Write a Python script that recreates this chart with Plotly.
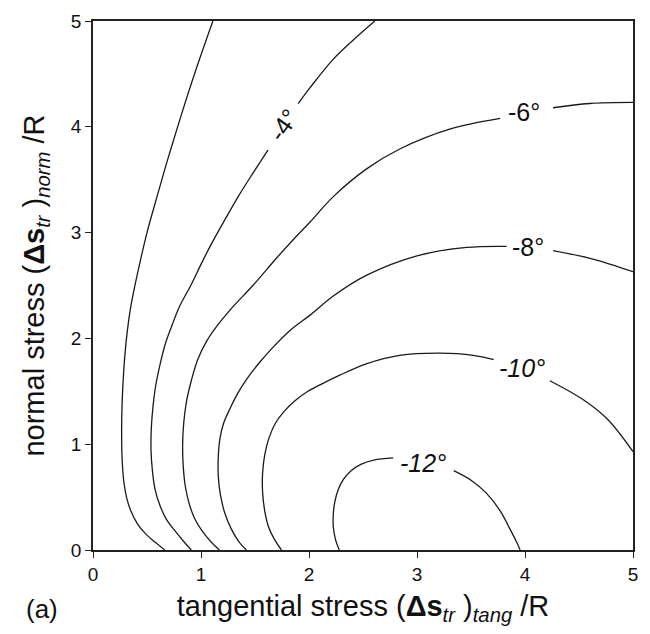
import plotly.graph_objects as go

# Contour levels (degrees) and their traced coordinates (None = label gap)
levels = [-2, -4, -6, -8, -10, -12]

c2_x = [0.665, 0.58, 0.49, 0.41, 0.35, 0.31, 0.285, 0.27, 0.265, 0.27, 0.285, 0.31, 0.35, 0.42, 0.50, 0.59, 0.70, 0.82, 0.96, 1.11]
c2_y = [0.0, 0.07, 0.15, 0.25, 0.37, 0.5, 0.65, 0.85, 1.1, 1.4, 1.7, 2.0, 2.3, 2.65, 3.0, 3.33, 3.72, 4.12, 4.56, 5.0]

c4_x = [0.91, 0.84, 0.76, 0.68, 0.62, 0.575, 0.55, 0.537, 0.54, 0.555, 0.58, 0.62, 0.67, 0.73, 0.80, 0.905, 1.0, 1.1, 1.22, 1.35, 1.48, 1.62, None, 1.9, 2.01, 2.225, 2.42, 2.61]
c4_y = [0.0, 0.08, 0.18, 0.29, 0.42, 0.57, 0.75, 0.95, 1.15, 1.35, 1.55, 1.75, 1.95, 2.12, 2.3, 2.5, 2.7, 2.9, 3.12, 3.35, 3.56, 3.78, None, 4.22, 4.37, 4.64, 4.83, 5.0]

c6_x = [1.17, 1.09, 1.01, 0.94, 0.89, 0.855, 0.835, 0.83, 0.84, 0.865, 0.91, 0.97, 1.05, 1.15, 1.27, 1.48, 1.70, 1.86, 2.01, 2.225, 2.53, 2.84, 3.31, 3.77, None, 4.26, 4.6, 5.0]
c6_y = [0.0, 0.08, 0.18, 0.3, 0.44, 0.6, 0.8, 1.0, 1.2, 1.4, 1.6, 1.8, 1.97, 2.12, 2.27, 2.5, 2.76, 2.94, 3.1, 3.34, 3.6, 3.79, 3.98, 4.08, None, 4.18, 4.22, 4.23]

c8_x = [1.42, 1.35, 1.28, 1.22, 1.18, 1.16, 1.16, 1.175, 1.21, 1.27, 1.34, 1.42, 1.54, 1.67, 1.83, 2.01, 2.225, 2.53, 3.0, 3.46, 3.83, None, 4.26, 4.63, 5.0]
c8_y = [0.0, 0.08, 0.2, 0.35, 0.52, 0.7, 0.88, 1.05, 1.2, 1.34, 1.48, 1.61, 1.77, 1.92, 2.08, 2.22, 2.4, 2.595, 2.78, 2.86, 2.87, None, 2.83, 2.75, 2.63]

c10_x = [1.745, 1.68, 1.625, 1.59, 1.57, 1.57, 1.59, 1.63, 1.69, 1.77, 1.87, 1.99, 2.12, 2.28, 2.53, 2.84, 3.21, 3.52, 3.71, None, 4.23, 4.54, 4.76, 5.0]
c10_y = [0.0, 0.1, 0.22, 0.37, 0.55, 0.72, 0.9, 1.06, 1.2, 1.31, 1.41, 1.5, 1.57, 1.65, 1.76, 1.84, 1.86, 1.84, 1.80, None, 1.60, 1.42, 1.24, 0.93]

c12_x = [2.28, 2.245, 2.225, 2.225, 2.24, 2.27, 2.32, 2.39, 2.48, 2.6, 2.78, None, 3.34, 3.5, 3.64, 3.77, 3.86, 3.92, 3.955]
c12_y = [0.0, 0.1, 0.22, 0.34, 0.46, 0.57, 0.67, 0.75, 0.81, 0.85, 0.87, None, 0.75, 0.66, 0.54, 0.37, 0.2, 0.08, 0.0]

# Contour labels
label_text = ["-4°", "-6°", "-8°", "<i>-10°</i>", "<i>-12°</i>"]
label_x = [1.76, 3.99, 4.03, 3.97, 3.06]
label_y = [4.02, 4.14, 2.86, 1.72, 0.82]
label_angle = [-55, 0, 0, 0, 0]

tick_vals = [0, 1, 2, 3, 4, 5]
tick_text = ["0", "1", "2", "3", "4", "5"]

FONT = "Liberation Sans, Arial, Helvetica, sans-serif"

fig = go.Figure()
for lx, ly in [(c2_x, c2_y), (c4_x, c4_y), (c6_x, c6_y), (c8_x, c8_y), (c10_x, c10_y), (c12_x, c12_y)]:
    fig.add_trace(go.Scatter(x=lx, y=ly, mode="lines",
                             line=dict(color="#1a1a1a", width=1.3, shape="spline", smoothing=1.0),
                             connectgaps=False, showlegend=False, hoverinfo="skip"))

for t, x, y, a in zip(label_text, label_x, label_y, label_angle):
    fig.add_annotation(x=x, y=y, text=t, textangle=a, showarrow=False,
                       font=dict(family=FONT, size=25, color="#111"))

fig.add_annotation(xref="paper", yref="paper", x=-0.094, y=-0.111, text="(a)",
                   xanchor="center", yanchor="middle",
                   showarrow=False, font=dict(family=FONT, size=26, color="#111"))

axis_common = dict(range=[0, 5], tickvals=tick_vals, ticktext=tick_text, ticks="outside",
                   ticklen=6, tickwidth=1.3, tickcolor="#222", showline=True, linecolor="#222",
                   linewidth=1.5, mirror=True, showgrid=False, zeroline=False,
                   tickfont=dict(family=FONT, size=19, color="#111"))

fig.update_xaxes(**axis_common,
                 title=dict(text="tangential stress (<b>Δs</b><sub><i>tr</i></sub> )<sub><i>tang</i></sub> /R",
                            font=dict(family=FONT, size=29, color="#111"), standoff=12))
fig.update_yaxes(**axis_common,
                 title=dict(text="normal stress (<b>Δs</b><sub><i>tr</i></sub> )<sub><i>norm</i></sub> /R",
                            font=dict(family=FONT, size=29, color="#111"), standoff=18))

fig.update_layout(width=650, height=634, margin=dict(l=93, r=17, t=11, b=84),
                  plot_bgcolor="white", paper_bgcolor="white")

fig.write_html("out.html")
